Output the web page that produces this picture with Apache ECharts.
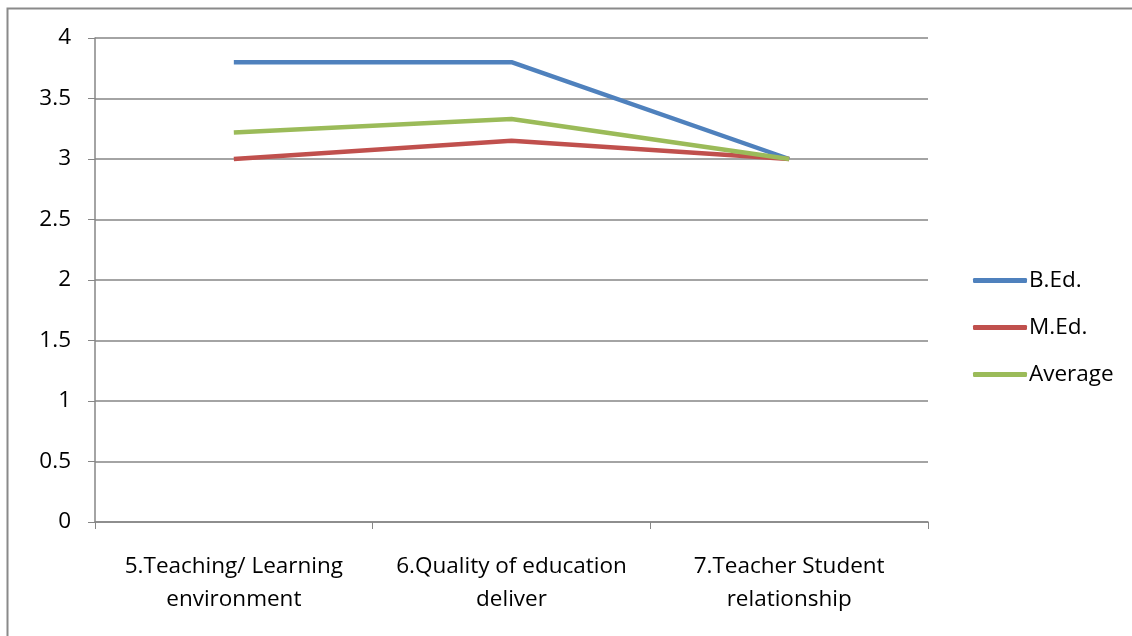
<!DOCTYPE html>
<html>
<head>
<meta charset="utf-8">
<script src="https://cdn.jsdelivr.net/npm/echarts@6/dist/echarts.min.js"></script>
<style>
  html, body { margin: 0; padding: 0; background: #fff; }
  #chart { width: 1132px; height: 636px; }
</style>
</head>
<body>
<div id="chart"></div>
<script>
// categories and values
const categories = ['5.Teaching/ Learning\nenvironment', '6.Quality of education\ndeliver', '7.Teacher Student\nrelationship']
const bed = [3.8, 3.8, 3.0]
const med = [3.0, 3.15, 3.0]
const average = [3.22, 3.33, 3.0]
const yTicks = [0, 4, 0.5] // min, max, interval

const font = '"Open Sans", sans-serif'
const gridColor = '#868686'
const fs = 22.5

const chart = echarts.init(document.getElementById('chart'))

function line(name, data, color) {
  return {
    name: name,
    type: 'line',
    data: data,
    symbol: 'none',
    lineStyle: { width: 4.5, color: color },
    itemStyle: { color: color }
  }
}

chart.setOption({
  animation: false,
  textStyle: { fontFamily: font },
  graphic: [
    // outer chart border (runs off the right and bottom of the picture)
    {
      type: 'rect',
      shape: { x: 7.5, y: 8.5, width: 1140, height: 640 },
      style: { fill: 'none', stroke: '#8a8a8a', lineWidth: 2 },
      silent: true
    }
  ],
  grid: { left: 95, right: 204, top: 38, bottom: 114 },
  legend: {
    orient: 'vertical',
    left: 968,
    top: 264,
    icon: 'roundRect',
    itemWidth: 54,
    itemHeight: 5,
    itemGap: 24,
    textStyle: { fontSize: fs, color: '#000', fontFamily: font, padding: [0, 0, 0, -3] },
    data: ['B.Ed.', 'M.Ed.', 'Average']
  },
  xAxis: {
    type: 'category',
    data: categories,
    boundaryGap: true,
    axisLine: { lineStyle: { color: gridColor, width: 1.5 } },
    axisTick: { show: true, length: 7, lineStyle: { color: gridColor } },
    axisLabel: { color: '#000', fontSize: fs, lineHeight: 33, margin: 28, interval: 0 }
  },
  yAxis: {
    type: 'value',
    min: yTicks[0],
    max: yTicks[1],
    interval: yTicks[2],
    axisLine: { show: true, lineStyle: { color: gridColor, width: 1.5 } },
    axisTick: { show: true, length: 7, lineStyle: { color: gridColor } },
    axisLabel: { color: '#000', fontSize: fs, margin: 24 },
    splitLine: { lineStyle: { color: gridColor, width: 1.5 } }
  },
  series: [
    line('B.Ed.', bed, '#4f81bd'),
    line('M.Ed.', med, '#c0504d'),
    line('Average', average, '#9bbb59')
  ]
})
</script>
</body>
</html>
